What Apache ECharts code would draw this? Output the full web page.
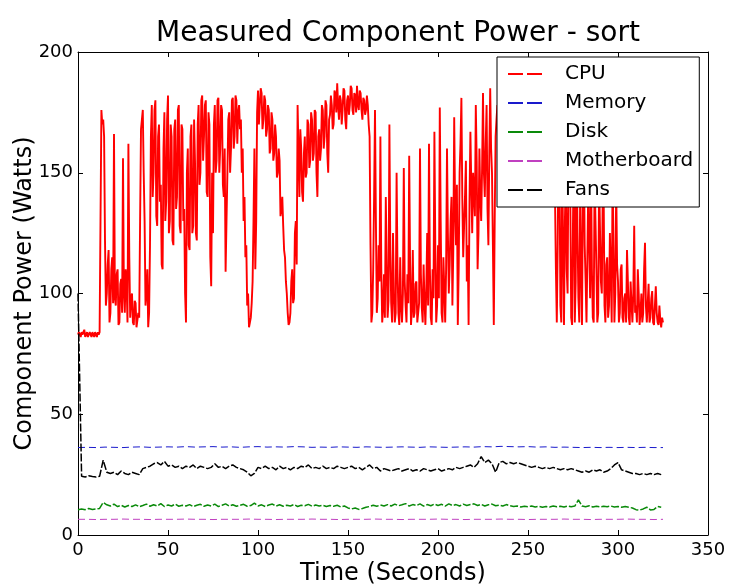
<!DOCTYPE html>
<html>
<head>
<meta charset="utf-8">
<script src="https://cdn.jsdelivr.net/npm/echarts@6/dist/echarts.min.js"></script>
<style>html,body{margin:0;padding:0;background:#fff}#c{width:730px;height:585px}</style>
</head>
<body>
<div id="c"></div>
<script>
// ---- data (Watts), sampled at uniform steps starting at t=0 s ----
const cpuStep = 0.5;
const cpuPower = [
83,84,83,82,84,83,83,85,82,83,84,82,83,84,83,82,84,83,82,84,
83,82,84,83,84,130,176,170,172,165,122,95,100,112,118,88,92,110,115,96,
166,98,95,108,110,87,88,104,106,92,156,100,92,110,104,88,162,115,90,98,
100,88,87,97,96,86,86,92,90,130,168,172,176,150,130,95,100,110,86,92,
120,165,178,140,150,176,180,132,128,165,170,138,145,112,110,160,175,130,138,172,
182,125,130,170,165,122,120,168,172,135,140,176,178,128,125,170,168,130,135,100,
88,150,160,120,118,165,170,125,128,172,155,125,122,170,178,145,150,180,182,155,
165,178,180,142,140,175,170,115,103,150,125,170,178,150,155,180,181,150,160,178,
176,145,140,160,109,130,150,172,175,150,160,180,181,160,165,182,180,162,175,178,
168,172,150,160,130,140,115,120,95,100,86,88,90,96,105,130,160,110,130,175,
184,170,178,185,183,168,172,182,180,165,168,178,176,158,160,175,172,155,158,170,
165,148,150,160,155,132,135,140,128,118,115,105,100,92,87,88,92,105,110,96,
98,125,130,112,178,160,140,168,160,142,138,158,165,148,150,172,170,152,155,175,
172,155,158,176,175,150,140,165,168,155,160,178,176,160,165,180,178,158,150,172,
174,182,178,168,170,184,183,175,187,178,172,182,180,170,176,185,184,172,168,180,
182,174,178,186,185,176,174,183,182,175,186,178,176,184,183,176,172,181,180,174,
176,182,178,170,165,120,88,92,110,140,176,130,92,98,120,105,165,110,88,94,
108,90,140,112,90,97,170,118,96,88,125,100,88,92,150,110,92,87,115,95,
88,100,152,105,95,88,108,96,157,112,87,94,118,90,92,104,105,88,88,96,
160,108,94,88,112,97,87,102,125,95,162,110,90,87,110,98,167,120,88,95,
120,98,177,130,92,88,115,102,88,110,160,125,100,112,130,140,95,118,173,135,
120,145,87,110,150,162,181,140,115,128,140,155,105,120,87,138,167,145,125,150,
150,132,178,155,110,125,160,140,130,152,183,150,140,162,178,135,120,158,185,160,
150,120,87,130,165,172,178,162,160,175,182,170,170,178,176,165,158,172,180,168,
168,178,175,165,162,176,180,170,170,160,178,168,160,170,176,180,172,165,182,175,
165,172,178,165,170,178,180,168,162,170,175,180,168,172,180,165,160,170,176,178,
170,165,178,172,165,160,175,168,160,150,140,110,88,120,175,150,95,88,160,120,
87,130,150,110,100,160,178,140,90,87,130,165,88,105,170,125,98,88,145,112,
87,140,165,120,105,88,88,145,120,98,155,110,90,88,150,130,110,88,92,148,
148,105,100,140,145,95,88,112,115,90,95,125,108,88,152,120,88,100,145,112,
105,88,92,110,112,90,88,98,100,88,118,105,90,87,105,96,88,100,128,92,
95,88,110,100,87,92,100,88,92,110,121,95,88,96,104,88,90,98,101,88,
87,95,103,92,88,87,95,89,86,90,88
];

const memStep = 5;
const memoryPower = [
36.2,36.3,36.2,36.4,36.3,36.2,36.4,36.5,36.3,36.4,
36.5,36.4,36.6,36.4,36.5,36.6,36.4,36.5,36.3,36.5,
36.6,36.4,36.5,36.4,36.6,36.5,36.3,36.4,36.3,36.5,
36.4,36.3,36.5,36.4,36.3,36.4,36.5,36.4,36.3,36.5,
36.4,36.3,36.4,36.5,36.4,36.6,36.5,36.7,36.6,36.5,
36.6,36.4,36.5,36.3,36.4,36.3,36.2,36.3,36.2,36.3,
36.2,36.3,36.2,36.3,36.2,36.2
];

const diskStep = 2;
const diskPower = [
10.5,10.8,10.5,11,10.6,10.8,11,13.5,12.5,12,
12.8,11.8,12.3,11.6,12.2,11.8,12.5,11.7,12.2,12.8,
11.9,12.5,12,13,11.8,12.4,12,12.8,11.9,12.3,
12,12.6,11.8,12.3,12.7,11.9,12.4,12,12.8,11.8,
12.3,12.9,12,12.5,11.9,12.3,12.7,11.9,12.2,13.2,
12,12.5,11.8,12.4,12.8,12,12.5,11.9,12.3,12,
12.6,11.8,12.3,12.1,12.7,11.9,12.4,12,12.3,11.8,
12.2,11.9,12.3,11.6,12,11.2,10.8,11.2,10.6,11,
11.5,11.8,12.3,11.9,12.4,12,12.6,12,12.8,12.1,
12.5,13,12,12.6,12.2,12.9,12,12.6,12.1,12.8,
12.2,12.7,12,12.9,12.2,12.6,12,12.8,12.2,12.6,
12.9,12.2,12.7,12,12.5,12.8,12.1,12.4,12,12.6,
12.1,11.8,12,11.6,11.9,11.7,12,11.6,11.9,11.5,
11.8,11.6,12,11.7,11.9,11.6,12,11.7,12,14.5,
12,11.7,12.1,11.6,11.9,11.6,11.9,11.7,12,11.6,
11.8,11.5,11.8,11.5,11.2,10.5,10.3,10.8,11.5,10.4,
10.6,11.8,11.5
];

const mbStep = 5;
const motherboardPower = [
6.5,6.5,6.4,6.5,6.5,6.6,6.5,6.5,6.4,6.5,
6.5,6.5,6.6,6.5,6.5,6.4,6.5,6.5,6.5,6.6,
6.5,6.5,6.4,6.5,6.5,6.5,6.6,6.5,6.5,6.4,
6.5,6.5,6.5,6.6,6.5,6.5,6.4,6.5,6.5,6.5,
6.6,6.5,6.5,6.4,6.5,6.5,6.5,6.6,6.5,6.5,
6.4,6.5,6.5,6.5,6.6,6.5,6.5,6.4,6.5,6.5,
6.5,6.6,6.5,6.5,6.4,6.5
];

const fanStep = 2;
const fansPower = [
100,24.3,24,24.5,24.2,24,24.3,31,26,25.5,
26,25,26.5,25.5,25,26,25.5,25,27.5,28,
28.5,29.5,30,29,30.5,28.5,29,28,28.5,27.5,
28.5,28,29,27.5,28.5,28,27.5,28,29.5,28,
28.5,27.5,28.5,29,28,27.5,27,26,24.5,25.5,
28,27.5,28.5,27.5,28,27,28.5,27.5,28,27,
28,27.5,28.5,28,29,27.5,28,27.5,28.5,27.5,
28,27.5,28.5,28,27.5,28,28.5,27.5,28,27,
28,29,27.5,28,26.5,27.5,27,26.5,27,27.5,
26.5,27,27.5,26.5,27,26.5,27.5,27,26.5,27,
27.5,26.5,27,27.5,27,28,27.5,28,28.5,29,
28,29.5,32.5,30,31,29.5,26,30,30.5,29.5,
30,29.5,30,29.5,29,28.5,28,28.5,28,27.5,
28,27.5,28,27.5,27,27.5,27,27.5,27,26.5,
26,26.5,26,27,26.5,27,26,26.5,27.5,29,
30,27,26.5,26,25.5,25.5,25,25.5,25,25.5,
25,25.5,25
];

const seriesNames = ['CPU', 'Memory', 'Disk', 'Motherboard', 'Fans'];
const xTicks = [0, 50, 100, 150, 200, 250, 300, 350];
const yTicks = [0, 50, 100, 150, 200];

function pairs(values, step) { return values.map((v, i) => [i * step, v]); }

const FONT = 'DejaVu Sans';
const chart = echarts.init(document.getElementById('c'), null, {renderer: 'canvas'});

function mkSeries(name, values, step, color, dash, width, z) {
  return {
    name: name, type: 'line', data: pairs(values, step),
    xAxisIndex: 0, yAxisIndex: 0,
    showSymbol: false, symbol: 'none', sampling: null,
    lineStyle: {color: color, width: width, type: dash},
    itemStyle: {color: color},
    z: z, animation: false
  };
}

const axisCommon = {
  axisLine: {show: true, onZero: false, lineStyle: {color: '#000', width: 1}},
  axisTick: {show: true, inside: true, length: 5, lineStyle: {color: '#000'}},
  splitLine: {show: false}
};

chart.setOption({
  animation: false,
  backgroundColor: '#fff',
  title: {
    text: 'Measured Component Power - sort',
    left: 393, top: 15, textAlign: 'center',
    textStyle: {fontFamily: FONT, fontSize: 28, fontWeight: 'normal', color: '#000'}
  },
  grid: {left: 78, right: 22, top: 52, bottom: 50, containLabel: false, outerBoundsMode: 'none'},
  legend: {
    data: seriesNames,
    orient: 'vertical', left: 497, top: 57,
    backgroundColor: '#fff', borderColor: '#000', borderWidth: 1,
    padding: [6, 6, 6, 11],
    itemWidth: 34, itemHeight: 2, itemGap: 7,
    icon: 'path://M0,0H15V2H0Z M19,0H34V2H19Z',
    itemStyle: {borderWidth: 0},
    textStyle: {fontFamily: FONT, fontSize: 20, color: '#000', lineHeight: 22, padding: [0, 0, 0, 18]},
    selectedMode: false
  },
  xAxis: [
    Object.assign({}, axisCommon, {
      type: 'value', position: 'bottom', min: xTicks[0], max: xTicks[xTicks.length - 1], interval: 50,
      axisLabel: {fontFamily: FONT, fontSize: 18, color: '#000', margin: 6},
      name: 'Time (Seconds)', nameLocation: 'middle', nameGap: 27, nameMoveOverlap: false,
      nameTextStyle: {fontFamily: FONT, fontSize: 24, color: '#000'}
    }),
    Object.assign({}, axisCommon, {
      type: 'value', position: 'top', min: xTicks[0], max: xTicks[xTicks.length - 1], interval: 50,
      axisLabel: {show: false}
    })
  ],
  yAxis: [
    Object.assign({}, axisCommon, {
      type: 'value', position: 'left', min: yTicks[0], max: yTicks[yTicks.length - 1], interval: 50,
      axisLabel: {fontFamily: FONT, fontSize: 18, color: '#000', margin: 5},
      name: 'Component Power (Watts)', nameLocation: 'middle', nameGap: 41, nameMoveOverlap: false,
      nameTextStyle: {fontFamily: FONT, fontSize: 24, color: '#000'}
    }),
    Object.assign({}, axisCommon, {
      type: 'value', position: 'right', min: yTicks[0], max: yTicks[yTicks.length - 1], interval: 50,
      axisLabel: {show: false}
    })
  ],
  series: [
    mkSeries(seriesNames[0], cpuPower, cpuStep, '#ff0000', 'solid', 1.9, 2),
    mkSeries(seriesNames[1], memoryPower, memStep, '#1a1acc', [7, 4], 1, 3),
    mkSeries(seriesNames[2], diskPower, diskStep, '#0a8a0a', [8, 2], 1.5, 4),
    mkSeries(seriesNames[3], motherboardPower, mbStep, '#c040c0', [7, 4], 1, 5),
    mkSeries(seriesNames[4], fansPower, fanStep, '#000000', [8, 2], 1.5, 6)
  ]
});
</script>
</body>
</html>
